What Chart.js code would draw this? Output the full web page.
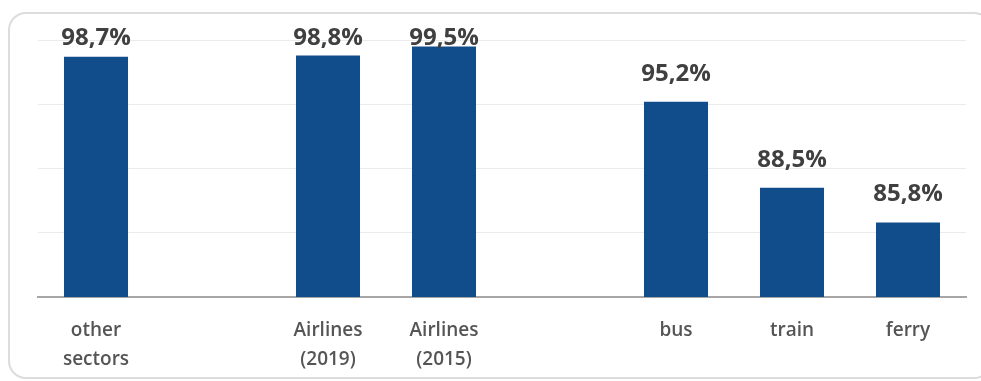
<!DOCTYPE html>
<html>
<head>
<meta charset="utf-8">
<script src="https://cdn.jsdelivr.net/npm/chart.js@4.4.1/dist/chart.umd.min.js"></script>
<style>
  html, body { margin: 0; padding: 0; background: #fff; }
  #wrap { position: relative; width: 981px; height: 381px; overflow: hidden; }
  #frame {
    position: absolute; left: 8px; top: 12px; width: 984px; height: 367px;
    border: 2px solid #dcdcdc; border-radius: 18px; box-sizing: border-box;
  }
  #chart { position: absolute; left: 0; top: 0; }
</style>
</head>
<body>
<div id="wrap">
  <div id="frame"></div>
  <canvas id="chart" width="981" height="381"></canvas>
</div>
<script>
// categories (empty slots keep the gaps between the groups)
const categories = [['other', 'sectors'], '', ['Airlines', '(2019)'], ['Airlines', '(2015)'], '', 'bus', 'train', 'ferry'];
const shares = [98.7, null, 98.8, 99.5, null, 95.2, 88.5, 85.8];
const yTicks = [80, 85, 90, 95, 100];

const BAR = '#124d8b';
const LABEL = '#404040';
const AXIS_TEXT = '#555555';
const GRID = '#ebebeb';

// value labels above each bar, kept inside the top of the frame
const valueLabels = {
  id: 'valueLabels',
  afterDatasetsDraw(chart) {
    const ctx = chart.ctx;
    const meta = chart.getDatasetMeta(0);
    ctx.save();
    ctx.font = "bold 24px 'Open Sans', sans-serif";
    ctx.fillStyle = LABEL;
    ctx.textAlign = 'center';
    ctx.textBaseline = 'alphabetic';
    meta.data.forEach((bar, i) => {
      const v = shares[i];
      if (v == null) return;
      const y = Math.max(bar.y - 21, chart.chartArea.top + 5);
      ctx.fillText(v.toFixed(1).replace('.', ',') + '%', bar.x, y);
    });
    ctx.restore();
  },
};

new Chart(document.getElementById('chart'), {
  type: 'bar',
  data: {
    labels: categories,
    datasets: [{
      data: shares,
      backgroundColor: BAR,
      borderWidth: 0,
      categoryPercentage: 1,
      barPercentage: 0.552,
    }],
  },
  options: {
    responsive: false,
    animation: false,
    layout: { padding: { left: 38, right: 15, top: 40, bottom: 0 } },
    plugins: {
      legend: { display: false },
      tooltip: { enabled: false },
    },
    scales: {
      x: {
        grid: { display: false },
        border: { color: '#a6a6a6', width: 2 },
        ticks: {
          color: AXIS_TEXT,
          font: { family: "'Open Sans', sans-serif", size: 19, weight: '600', lineHeight: 1.48 },
          padding: 12,
          maxRotation: 0,
          autoSkip: false,
        },
        afterFit: (scale) => { scale.height = 84; },
      },
      y: {
        min: yTicks[0],
        max: yTicks[yTicks.length - 1],
        afterBuildTicks: (scale) => { scale.ticks = yTicks.map((v) => ({ value: v })); },
        ticks: { display: false },
        border: { display: false },
        grid: {
          color: (c) => (c.tick && c.tick.value === yTicks[0] ? 'transparent' : GRID),
          lineWidth: 1,
          drawTicks: false,
        },
        afterFit: (scale) => { scale.width = 0; },
      },
    },
  },
  plugins: [valueLabels],
});
</script>
</body>
</html>
